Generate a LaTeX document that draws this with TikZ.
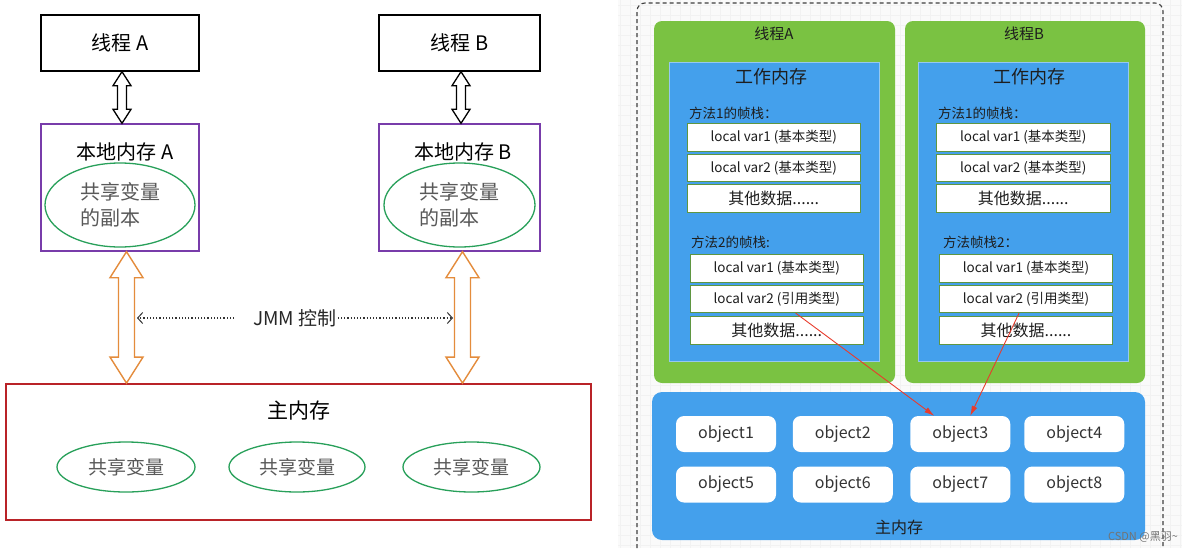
\documentclass[tikz,border=0pt]{standalone}
\usepackage{fontspec}
\setmainfont{Noto Sans CJK SC}
\usetikzlibrary{calc,arrows.meta,shapes.geometric}
\definecolor{thgreen}{RGB}{122,194,66}
\definecolor{wblue}{RGB}{68,160,236}
\definecolor{wborder}{RGB}{150,200,240}
\definecolor{boxgreen}{RGB}{95,150,65}
\definecolor{lpurple}{RGB}{120,60,170}
\definecolor{ellgreen}{RGB}{40,160,90}
\definecolor{mred}{RGB}{185,35,40}
\definecolor{orarr}{RGB}{228,140,60}
\definecolor{redarr}{RGB}{232,60,45}
\definecolor{txtdark}{RGB}{30,30,30}
\newcommand\myfs[1]{\fontsize{#1pt}{#1pt}\selectfont}
\newcommand\hollowarrow[6]{%
 \draw[#1] (#2) -- ($(#2)+(#5,#6)$) -- ($(#2)+(#4,#6)$) -- ($(#3)+(#4,-#6)$) -- ($(#3)+(#5,-#6)$) -- (#3) -- ($(#3)+(-#5,-#6)$) -- ($(#3)+(-#4,-#6)$) -- ($(#2)+(-#4,#6)$) -- ($(#2)+(-#5,#6)$) -- cycle;}
\tikzset{
  thbox/.style={draw=black, line width=1.4pt, fill=white, minimum height=56pt, inner sep=0pt, font=\myfs{20}},
  lmem/.style={draw=lpurple, line width=1.4pt, minimum height=127pt, inner sep=0pt},
  ell/.style={ellipse, draw=ellgreen, line width=1.3pt, inner sep=0pt},
  grey/.style={text=black!65, font=\myfs{20}},
  copytxt/.style={text=black!65, font=\fontsize{20pt}{26pt}\selectfont, align=left},
  dotarr/.style={dotted, line width=1.2pt, black!80, -{Straight Barb[length=5pt,width=11pt,line width=1pt]}},
  green/.style={fill=thgreen, rounded corners=8pt, draw=none},
  wmem/.style={fill=wblue, draw=wborder, line width=0.8pt},
  slot/.style={draw=boxgreen, line width=0.9pt, fill=white, minimum width=173.5pt, minimum height=27.5pt, inner sep=0pt, font=\myfs{13.5}, text=txtdark},
  other/.style={slot, font=\myfs{16}},
  obj/.style={fill=white, rounded corners=8pt, minimum width=100pt, minimum height=36pt, inner sep=0pt, font=\myfs{16}, text=black!80},
  lab/.style={font=\myfs{13.5}, text=txtdark, anchor=west, inner sep=0pt},
  refarr/.style={redarr, line width=0.9pt, -{Latex[length=10pt,width=6pt]}}
}
\begin{document}
\begin{tikzpicture}[x=1pt,y=-1pt]
\useasboundingbox (0,0) rectangle (1182,554);
\fill[white] (0,0) rectangle (1182,554);
% right background grid
\fill[black!2] (618,0) rectangle (1182,548);
\foreach \i in {620,630,...,1180} \draw[black!5, line width=0.3pt] (\i,0) -- (\i,548);
\foreach \j in {5,15,...,545} \draw[black!5, line width=0.3pt] (618,\j) -- (1182,\j);

% ---------------- left diagram ----------------
\node[thbox, minimum width=158pt] (ta) at (120,43) {线程 A};
\node[thbox, minimum width=161pt] (tb) at (459.5,43) {线程 B};
\node[lmem, minimum width=158pt] (la) at (120,187.5) {};
\node[lmem, minimum width=161pt] (lb) at (459.5,187.5) {};
\node[font=\myfs{20}] (lat) at (125,152) {本地内存 A};
\node[font=\myfs{20}] (lbt) at (463,152) {本地内存 B};
\node[ell, minimum width=150pt, minimum height=84pt, copytxt] (ea) at (120,205) {共享变量\\的副本};
\node[ell, minimum width=151pt, minimum height=84pt, copytxt] (eb) at (459.5,205) {共享变量\\的副本};

\node[draw=mred, line width=1.8pt, minimum width=585pt, minimum height=136pt] (mm) at (298.5,452) {};
\node[font=\myfs{21}] (mmt) at (298.5,411) {主内存};
\node[ell, minimum width=138pt, minimum height=50pt, grey, font=\myfs{19}] (s1) at (126,467) {共享变量};
\node[ell, minimum width=136pt, minimum height=50pt, grey, font=\myfs{19}] (s2) at (297,467) {共享变量};
\node[ell, minimum width=137pt, minimum height=50pt, grey, font=\myfs{19}] (s3) at (471.5,467) {共享变量};

% hollow arrows
\coordinate (ka1) at ($(ta.south)+(2,0)$);
\coordinate (ka2) at (ka1 |- la.north);
\coordinate (kb1) at ($(tb.south)+(1.5,0)$);
\coordinate (kb2) at (kb1 |- lb.north);
\hollowarrow{draw=black, line width=1.3pt, fill=white, line join=miter}{ka1}{ka2}{4.5}{9}{14}
\hollowarrow{draw=black, line width=1.3pt, fill=white, line join=miter}{kb1}{kb2}{4.5}{9}{14}
\coordinate (oa1) at ($(la.south)+(6.5,0)$);
\coordinate (oa2) at (oa1 |- mm.north);
\coordinate (ob1) at ($(lb.south)+(3,0)$);
\coordinate (ob2) at (ob1 |- mm.north);
\hollowarrow{draw=orarr, line width=1.4pt, fill=white}{oa1}{oa2}{8}{16.5}{26}
\hollowarrow{draw=orarr, line width=1.4pt, fill=white}{ob1}{ob2}{8}{16.5}{26}

% JMM control
\node[font=\myfs{19}, text=black!85, inner sep=1pt] (jmm) at (295,318) {JMM 控制};
\coordinate (jl) at ($(oa1 |- jmm)+(10.5,0)$);
\coordinate (jr) at ($(ob1 |- jmm)+(-9.5,0)$);
\draw[dotarr] ($(jmm.west)+(-18,0)$) -- (jl);
\draw[dotarr] (jmm.east) -- (jr);

% ---------------- right diagram ----------------
\draw[black!75, line width=1.1pt, dash pattern=on 4pt off 3pt, rounded corners=8pt] (637,548) -- (637,3) -- (1163,3) -- (1163,548);

\path[green] (654,21) rectangle (895,383);
\path[green] (905,21) rectangle (1145,383);
\node[font=\myfs{15}, text=txtdark] (gat) at (774,34) {线程A};
\node[font=\myfs{15}, text=txtdark] (gbt) at (1024,34) {线程B};

\draw[wmem] (669,62) rectangle (879,361);
\draw[wmem] (918,62) rectangle (1128,361);
\node[font=\myfs{18}, text=txtdark] (wat) at (771,77) {工作内存};
\node[font=\myfs{18}, text=txtdark] (wbt) at (1029,77) {工作内存};

\node[lab] (am1) at (689,113) {方法1的帧栈：};
\node[slot] (a11) at (773.75,137.5) {local var1 (基本类型)};
\node[slot] (a12) at (773.75,168) {local var2 (基本类型)};
\node[other] (a13) at (773.75,198.5) {其他数据......};
\node[lab] (am2) at (691,242) {方法2的帧栈:};
\node[slot] (a21) at (776.75,268.5) {local var1 (基本类型)};
\node[slot] (a22) at (776.75,299) {local var2 (引用类型)};
\node[other] (a23) at (776.75,330.3) {其他数据......};

\node[lab] (bm1) at (938,113) {方法1的帧栈：};
\node[slot] (b11) at (1023.25,137.5) {local var1 (基本类型)};
\node[slot] (b12) at (1023.25,168) {local var2 (基本类型)};
\node[other] (b13) at (1023.25,198.5) {其他数据......};
\node[lab] (bm2) at (943,242) {方法帧栈2：};
\node[slot] (b21) at (1026,268.5) {local var1 (基本类型)};
\node[slot] (b22) at (1026,299) {local var2 (引用类型)};
\node[other] (b23) at (1026,330.3) {其他数据......};

\path[fill=wblue, rounded corners=10pt] (652,392) rectangle (1145,540);
\node[obj] (o1) at (726,434) {object1};
\node[obj] (o2) at (842.75,434) {object2};
\node[obj] (o3) at (960.25,434) {object3};
\node[obj] (o4) at (1074.25,434) {object4};
\node[obj] (o5) at (726,484.5) {object5};
\node[obj] (o6) at (842.75,484.5) {object6};
\node[obj] (o7) at (960.25,484.5) {object7};
\node[obj] (o8) at (1074.25,484.5) {object8};
\node[font=\myfs{16}, text=txtdark] (mbt) at (899,527) {主内存};

\draw[refarr] ($(a22.south)+(19,0)$) -- ($(o3.north)+(-26,0)$);
\draw[refarr] ($(b22.south)+(-7,0)$) -- ($(o3.north)+(10,0)$);

\node[font=\myfs{11}, text=black!55, inner sep=0pt] (wm) at (1143,537) {CSDN @黑羽\textasciitilde};
\end{tikzpicture}
\end{document}
